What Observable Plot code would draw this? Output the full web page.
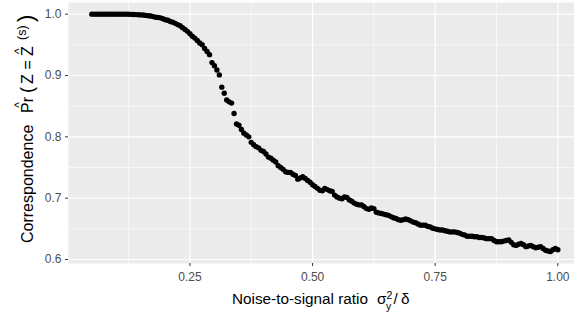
<!DOCTYPE html>
<html><head><meta charset="utf-8">
<script src="https://cdn.jsdelivr.net/npm/d3@7"></script>
<script src="https://cdn.jsdelivr.net/npm/@observablehq/plot@0.6"></script>
<style>
html,body{margin:0;padding:0;background:#fff;overflow:hidden;}
svg{display:block;}
</style></head><body>
<div id="chart"></div>
<script>
const ratio = [
0.050,0.055,0.060,0.065,0.070,0.075,0.080,0.085,0.090,0.095,
0.100,0.105,0.110,0.115,0.120,0.125,0.130,0.135,0.140,0.145,
0.150,0.155,0.160,0.165,0.170,0.175,0.180,0.185,0.190,0.195,
0.200,0.205,0.210,0.215,0.220,0.225,0.230,0.235,0.240,0.245,
0.250,0.255,0.260,0.265,0.270,0.275,0.280,0.285,0.290,0.295,
0.300,0.305,0.310,0.315,0.320,0.325,0.330,0.335,0.340,0.345,
0.350,0.355,0.360,0.365,0.370,0.375,0.380,0.385,0.390,0.395,
0.400,0.405,0.410,0.415,0.420,0.425,0.430,0.435,0.440,0.445,
0.450,0.455,0.460,0.465,0.470,0.475,0.480,0.485,0.490,0.495,
0.500,0.505,0.510,0.515,0.520,0.525,0.530,0.535,0.540,0.545,
0.550,0.555,0.560,0.565,0.570,0.575,0.580,0.585,0.590,0.595,
0.600,0.605,0.610,0.615,0.620,0.625,0.630,0.635,0.640,0.645,
0.650,0.655,0.660,0.665,0.670,0.675,0.680,0.685,0.690,0.695,
0.700,0.705,0.710,0.715,0.720,0.725,0.730,0.735,0.740,0.745,
0.750,0.755,0.760,0.765,0.770,0.775,0.780,0.785,0.790,0.795,
0.800,0.805,0.810,0.815,0.820,0.825,0.830,0.835,0.840,0.845,
0.850,0.855,0.860,0.865,0.870,0.875,0.880,0.885,0.890,0.895,
0.900,0.905,0.910,0.915,0.920,0.925,0.930,0.935,0.940,0.945,
0.950,0.955,0.960,0.965,0.970,0.975,0.980,0.985,0.990,0.995,
1.000];
const correspondence = [
1.000,1.000,1.000,1.000,1.000,1.000,1.000,1.000,1.000,1.000,
1.000,1.000,1.000,1.000,1.000,0.9998,0.9997,0.9995,0.9993,0.9990,
0.9988,0.9985,0.9980,0.9975,0.9970,0.9960,0.9950,0.9945,0.9940,0.9925,
0.991,0.990,0.988,0.987,0.985,0.983,0.981,0.978,0.975,0.972,
0.968,0.964,0.961,0.957,0.953,0.950,0.944,0.939,0.934,0.921,
0.916,0.909,0.901,0.881,0.871,0.860,0.857,0.855,0.838,0.821,
0.819,0.812,0.806,0.803,0.800,0.791,0.787,0.784,0.782,0.778,
0.776,0.772,0.767,0.765,0.762,0.759,0.753,0.750,0.747,0.743,
0.742,0.742,0.739,0.737,0.731,0.733,0.735,0.732,0.729,0.726,
0.722,0.719,0.716,0.713,0.712,0.716,0.714,0.712,0.711,0.705,
0.702,0.700,0.699,0.702,0.701,0.697,0.695,0.692,0.690,0.689,
0.689,0.686,0.683,0.682,0.684,0.683,0.677,0.676,0.675,0.674,
0.673,0.672,0.670,0.668,0.667,0.665,0.664,0.665,0.666,0.665,
0.663,0.661,0.660,0.658,0.656,0.656,0.656,0.654,0.653,0.651,
0.650,0.649,0.648,0.648,0.647,0.646,0.645,0.645,0.645,0.644,
0.643,0.641,0.640,0.638,0.638,0.638,0.637,0.637,0.636,0.636,
0.635,0.634,0.634,0.634,0.631,0.629,0.629,0.629,0.630,0.631,
0.632,0.628,0.624,0.623,0.625,0.626,0.624,0.621,0.622,0.623,
0.621,0.619,0.620,0.621,0.618,0.615,0.614,0.613,0.616,0.618,
0.616];
const xTicks = [0.25, 0.50, 0.75, 1.00];
const xMinor = [0.125, 0.375, 0.625, 0.875];
const yTicks = [0.6, 0.7, 0.8, 0.9, 1.0];
const yMinor = [0.65, 0.75, 0.85, 0.95];
const xTitle = "Noise-to-signal ratio";
const yTitle = "Correspondence";

const FONT = "'Liberation Sans', Arial, Helvetica, sans-serif";
const data = ratio.map((x, i) => ({x, y: correspondence[i]}));

const chart = Plot.plot({
  width: 574, height: 321,
  marginLeft: 68, marginRight: 0, marginTop: 2, marginBottom: 58,
  style: {fontFamily: FONT, background: "#fff", overflow: "hidden"},
  x: {domain: [0.0025, 1.034]},
  y: {domain: [0.5935, 1.019]},
  marks: [
    Plot.frame({fill: "#EBEBEB", stroke: null}),
    Plot.ruleX(xMinor, {stroke: "#fff", strokeWidth: 0.6}),
    Plot.ruleY(yMinor, {stroke: "#fff", strokeWidth: 0.6}),
    Plot.ruleX(xTicks, {stroke: "#fff", strokeWidth: 1.2}),
    Plot.ruleY(yTicks, {stroke: "#fff", strokeWidth: 1.2}),
    Plot.dot(data, {x: "x", y: "y", r: 2.7, fill: "#000", stroke: null}),
    Plot.axisX({ticks: xTicks, tickFormat: d3.format(".2f"), tickSize: 3, tickPadding: 6,
      fontSize: 12, fill: "#4D4D4D", stroke: "#333333", label: null}),
    Plot.axisY({ticks: yTicks, tickFormat: d3.format(".1f"), tickSize: 3, tickPadding: 4,
      fontSize: 12, fill: "#4D4D4D", stroke: "#333333", label: null})
  ]
});
document.getElementById("chart").appendChild(chart);

const svg = d3.select(chart);

// x-axis title: Noise-to-signal ratio  sigma_y^2 / delta
const xt = svg.append("text")
  .attr("y", 304).attr("text-anchor", "start")
  .attr("font-family", FONT).attr("font-size", 15.3).attr("fill", "#000");
xt.append("tspan").attr("x", 232).text(xTitle);
xt.append("tspan").attr("x", 377).text("σ");
xt.append("tspan").attr("x", 386.5).attr("dy", -5.5).attr("font-size", 10.5).text("2");
xt.append("tspan").attr("x", 386).attr("dy", 11).attr("font-size", 10.5).text("y");
xt.append("tspan").attr("x", 393.5).attr("dy", -5.5).text("/");
xt.append("tspan").attr("x", 401).text("δ");

// y-axis title: Correspondence  hat(Pr)(Z = hat(Z)^(s))
const g = svg.append("g").attr("transform", "translate(33,243) rotate(-90)")
  .attr("font-family", FONT).attr("fill", "#000").attr("text-anchor", "start");
const yt = g.append("text").attr("font-size", 16).attr("text-anchor", "start");
yt.append("tspan").attr("x", 0).text(yTitle);
const tPr = yt.append("tspan").attr("x", 130).text("Pr");
yt.append("tspan").attr("x", 150).attr("font-size", 18).text("(");
yt.append("tspan").attr("x", 159).text("Z");
yt.append("tspan").attr("x", 173.5).text("=");
const tZ = yt.append("tspan").attr("x", 187).text("Z");
yt.append("tspan").attr("x", 203).attr("dy", -7).attr("font-size", 12.5).text("(s)");
yt.append("tspan").attr("x", 221).attr("dy", 7).attr("font-size", 22).text(")");

const hatOver = (sel, x0) => {
  const w = sel.node().getComputedTextLength();
  g.append("text").attr("x", x0 + w / 2).attr("y", -10)
    .attr("text-anchor", "middle").attr("font-size", 12).text("^");
};
hatOver(tPr, 130);
hatOver(tZ, 187);
</script>
</body></html>
